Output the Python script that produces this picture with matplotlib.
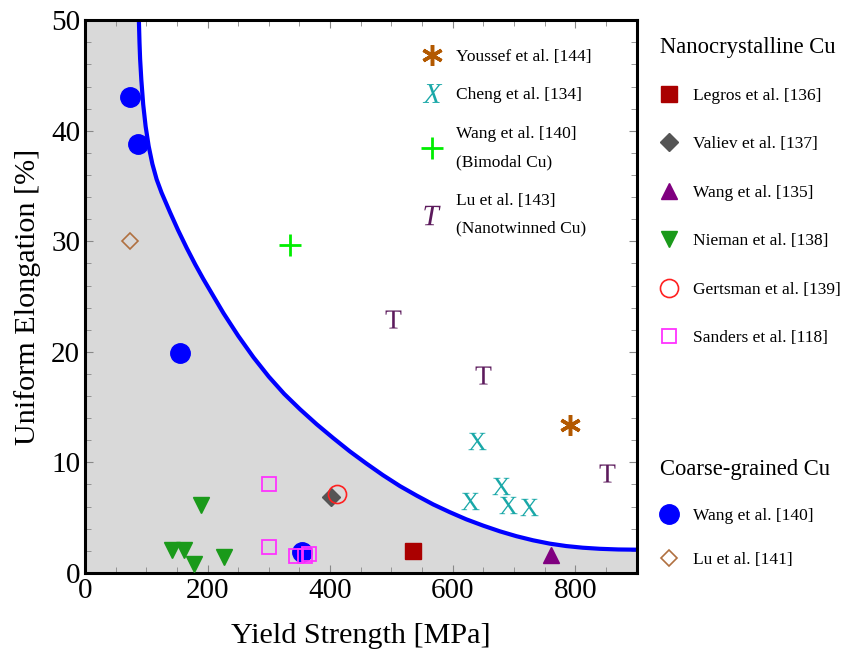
import numpy as np
import matplotlib
matplotlib.use("Agg")
import matplotlib.pyplot as plt
from matplotlib.lines import Line2D

plt.rcParams['font.family'] = ['Liberation Serif', 'DejaVu Serif']
plt.rcParams['mathtext.fontset'] = 'custom'
plt.rcParams['mathtext.rm'] = 'Liberation Serif'
plt.rcParams['mathtext.it'] = 'Liberation Serif:italic'

# guide curve
curve_x = [88, 89, 90, 92, 95, 99, 104, 110, 117, 125, 139, 152, 166, 180, 193,
           210, 226, 250, 275, 300, 325, 351, 378, 405, 432, 459, 486, 514, 541,
           568, 595, 622, 650, 677, 704, 731, 758, 785, 812, 840, 870, 900]
curve_y = [50.0, 48.0, 46.5, 44.6, 42.4, 40.4, 38.6, 37.0, 35.6, 34.4, 32.6, 31.0,
           29.4, 27.9, 26.6, 25.0, 23.5, 21.45, 19.5, 17.75, 16.2, 14.8, 13.45,
           12.2, 11.0, 9.9, 8.85, 7.85, 7.0, 6.2, 5.5, 4.85, 4.27, 3.76, 3.32,
           2.95, 2.65, 2.43, 2.28, 2.18, 2.12, 2.1]

# nanocrystalline Cu
legros_x, legros_y = [535], [2.0]
valiev_x, valiev_y = [401], [6.9]
wang135_x, wang135_y = [761], [1.6]
nieman_x = [189, 142, 161, 178, 227]
nieman_y = [6.1, 2.1, 2.1, 0.8, 1.4]
gertsman_x, gertsman_y = [411], [7.1]
sanders_x = [300, 300, 344, 359, 365]
sanders_y = [8.0, 2.3, 1.5, 1.5, 1.7]

# coarse-grained Cu
wang140_x = [73, 86, 155, 354]
wang140_y = [43.1, 38.8, 19.9, 1.9]
lu141_x, lu141_y = [73], [30.0]

# others
youssef_x, youssef_y = [791], [13.4]
cheng_x = [639, 628, 678, 690, 724]
cheng_y = [11.9, 6.5, 7.9, 6.1, 6.0]
bimodal_x, bimodal_y = [334], [29.7]
twin_x = [502, 650, 851]
twin_y = [23.0, 17.9, 9.0]

fig = plt.figure(figsize=(8.41, 6.54), dpi=100)
ax = fig.add_axes([0.101, 0.124, 0.656, 0.845])

# shaded region under the curve
poly_x = [0, 0] + curve_x + [900]
poly_y = [0, 50] + curve_y + [0]
ax.fill(poly_x, poly_y, color='#d9d9d9', zorder=0, lw=0)
ax.plot(curve_x, curve_y, color='#0000ff', lw=3, zorder=2)

ax.plot(legros_x, legros_y, 's', color='#aa0000', ms=12, ls='none', zorder=3)
ax.plot(valiev_x, valiev_y, 'D', color='#555555', ms=9, ls='none', zorder=3)
ax.plot(wang135_x, wang135_y, '^', color='#800080', ms=12, ls='none', zorder=3)
ax.plot(nieman_x, nieman_y, 'v', color='#1a9a1a', ms=12, ls='none', zorder=3)
ax.plot(gertsman_x, gertsman_y, 'o', mfc='none', mec='#ff2020', mew=1.2, ms=13, ls='none', zorder=4)
ax.plot(sanders_x, sanders_y, 's', mfc='none', mec='#ff33ff', mew=1.3, ms=10, ls='none', zorder=4)
ax.plot(wang140_x, wang140_y, 'o', color='#0000ff', ms=14, ls='none', zorder=3)
ax.plot(lu141_x, lu141_y, 'D', mfc='none', mec='#b07040', mew=1.2, ms=8, ls='none', zorder=3)
ax.plot(youssef_x, youssef_y, marker=(6, 2, 0), color='#b35900', mew=2.5, ms=15, ls='none', zorder=3)
ax.plot(cheng_x, cheng_y, marker='$\\mathrm{X}$', color='#1aa8a8', mew=0, ms=13, ls='none', zorder=3)
ax.plot(bimodal_x, bimodal_y, '+', color='#00ee00', mew=2, ms=16, ls='none', zorder=3)
ax.plot(twin_x, twin_y, marker='$\\mathrm{T}$', color='#5c1a5c', mew=0, ms=13, ls='none', zorder=3)

ax.set_xlim(0, 900)
ax.set_ylim(0, 50)
ax.set_xticks([0, 200, 400, 600, 800])
ax.set_xticks(np.arange(0, 901, 50), minor=True)
ax.set_yticks([0, 10, 20, 30, 40, 50])
ax.set_yticks(np.arange(0, 51, 2), minor=True)
ax.tick_params(which='both', direction='in', top=True, right=True, color='#888888',
               labelsize=21, labelcolor='black')
ax.tick_params(which='major', length=6)
ax.tick_params(which='minor', length=4)
for s in ax.spines.values():
    s.set_linewidth(2.2)
ax.set_xlabel('Yield Strength [MPa]', fontsize=21.7, labelpad=14)
ax.set_ylabel('Uniform Elongation [%]', fontsize=21.7, labelpad=7)

# legend inside the axes
inner = [
    Line2D([], [], marker=(6, 2, 0), color='#b35900', mew=2.5, ms=15, ls='none'),
    Line2D([], [], marker='$X$', color='#1aa8a8', mew=0, ms=14, ls='none'),
    Line2D([], [], marker='+', color='#00ee00', mew=2, ms=16, ls='none'),
    Line2D([], [], marker='$T$', color='#5c1a5c', mew=0, ms=14, ls='none'),
]
inner_labels = ['Youssef et al. [144]', 'Cheng et al. [134]',
                'Wang et al. [140]\n(Bimodal Cu)', 'Lu et al. [143]\n(Nanotwinned Cu)']
leg0 = ax.legend(inner, inner_labels, loc='upper left', bbox_to_anchor=(0.582, 0.977),
                 frameon=False, fontsize=12.5, labelspacing=1.3, handletextpad=0.75,
                 handlelength=1.2)
for t in leg0.get_texts():
    t.set_linespacing(2.0)

# legends on the right
fig.text(0.785, 1 - 48 / 654, 'Nanocrystalline Cu', fontsize=16.3, va='center', ha='left')
fig.text(0.785, 1 - 469 / 654, 'Coarse-grained Cu', fontsize=16.3, va='center', ha='left')

nano = [
    Line2D([], [], marker='s', color='#aa0000', ms=12, ls='none'),
    Line2D([], [], marker='D', color='#555555', ms=9, ls='none'),
    Line2D([], [], marker='^', color='#800080', ms=12, ls='none'),
    Line2D([], [], marker='v', color='#1a9a1a', ms=12, ls='none'),
    Line2D([], [], marker='o', mfc='none', mec='#ff2020', mew=1.2, ms=13, ls='none'),
    Line2D([], [], marker='s', mfc='none', mec='#ff33ff', mew=1.3, ms=10, ls='none'),
]
nano_labels = ['Legros et al. [136]', 'Valiev et al. [137]', 'Wang et al. [135]',
               'Nieman et al. [138]', 'Gertsman et al. [139]', 'Sanders et al. [118]']
fig.legend(nano, nano_labels, loc='center left', bbox_to_anchor=(0.7646, 1 - 217 / 654),
           frameon=False, fontsize=12.5, labelspacing=1.86, handletextpad=0.8,
           handlelength=1.2)

coarse = [
    Line2D([], [], marker='o', color='#0000ff', ms=14, ls='none'),
    Line2D([], [], marker='D', mfc='none', mec='#b07040', mew=1.2, ms=8, ls='none'),
]
coarse_labels = ['Wang et al. [140]', 'Lu et al. [141]']
fig.legend(coarse, coarse_labels, loc='center left', bbox_to_anchor=(0.7646, 1 - 538 / 654),
           frameon=False, fontsize=12.5, labelspacing=1.6, handletextpad=0.8,
           handlelength=1.2)

fig.savefig('out.png', dpi=100)
